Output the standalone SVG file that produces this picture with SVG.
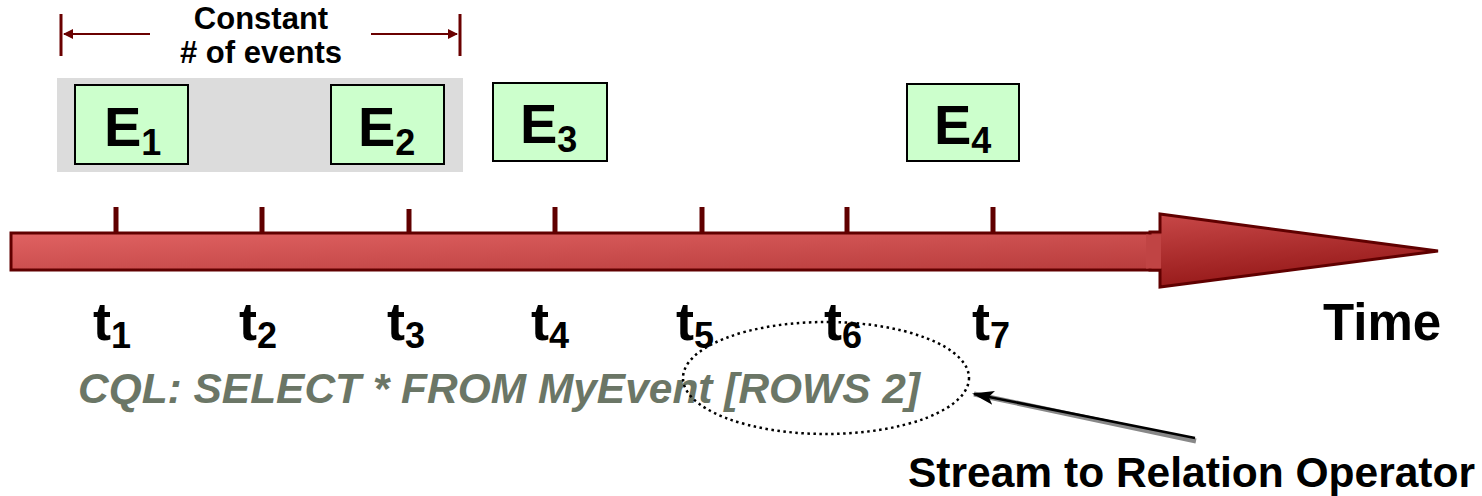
<svg xmlns="http://www.w3.org/2000/svg" width="1482" height="496" viewBox="0 0 1482 496">
  <defs>
    <style>
      .lbl { font-family: "Liberation Sans", Arial, sans-serif; font-weight: bold; fill: #000; }
      .ev rect { fill: #ccffcc; stroke: #000; stroke-width: 2; }
      .ev text { font-size: 56px; }
      .tick { stroke: #600000; stroke-width: 5; }
      .dim { stroke: #6a0000; stroke-width: 3; fill: none; }
    </style>
    <linearGradient id="shaftGrad" x1="0" y1="0" x2="1" y2="1" gradientUnits="objectBoundingBox">
      <stop offset="0" stop-color="#e06262"/>
      <stop offset="1" stop-color="#b83c3c"/>
    </linearGradient>
    <linearGradient id="headGrad" x1="0" y1="0" x2="0.3" y2="1">
      <stop offset="0" stop-color="#c84848"/>
      <stop offset="1" stop-color="#951818"/>
    </linearGradient>
    <marker id="dimHead" markerWidth="10" markerHeight="10" refX="9" refY="5" orient="auto" markerUnits="userSpaceOnUse" viewBox="0 0 10 10">
      <path d="M0,0 L10,5 L0,10 z" fill="#6a0000"/>
    </marker>
    <marker id="ptr" markerWidth="22" markerHeight="14" refX="20" refY="7" orient="auto" markerUnits="userSpaceOnUse" viewBox="0 0 22 14">
      <path d="M0,0 L22,7 L0,14 L5,7 z" fill="#000"/>
    </marker>
  </defs>

  <!-- window width indicator -->
  <g id="window-span">
    <line class="dim" x1="61" y1="14" x2="61" y2="56"/>
    <line class="dim" x1="460" y1="14" x2="460" y2="56"/>
    <line class="dim" x1="150" y1="34" x2="64" y2="34" marker-end="url(#dimHead)" style="stroke-width:2"/>
    <line class="dim" x1="371" y1="34" x2="457" y2="34" marker-end="url(#dimHead)" style="stroke-width:2"/>
    <text class="lbl" x="261" y="29" font-size="31" text-anchor="middle">Constant</text>
    <text class="lbl" x="261" y="63" font-size="31" text-anchor="middle"># of events</text>
  </g>

  <!-- current window contents -->
  <rect id="window" x="57" y="78" width="406" height="94" fill="#dcdcdc"/>

  <!-- events -->
  <g id="e1" class="ev">
    <rect x="75" y="85" width="113" height="79"/>
    <text class="lbl" x="104" y="146">E<tspan font-size="36" dy="9">1</tspan></text>
  </g>
  <g id="e2" class="ev">
    <rect x="331" y="85" width="113" height="79"/>
    <text class="lbl" x="358" y="146">E<tspan font-size="36" dy="9">2</tspan></text>
  </g>
  <g id="e3" class="ev">
    <rect x="493" y="83" width="114" height="78"/>
    <text class="lbl" x="520" y="143">E<tspan font-size="36" dy="9">3</tspan></text>
  </g>
  <g id="e4" class="ev">
    <rect x="907" y="84" width="112" height="77"/>
    <text class="lbl" x="934" y="144">E<tspan font-size="36" dy="9">4</tspan></text>
  </g>

  <!-- time axis -->
  <g id="axis">
    <line class="tick" x1="116" y1="207" x2="116" y2="234"/>
    <line class="tick" x1="262" y1="207" x2="262" y2="234"/>
    <line class="tick" x1="409" y1="209" x2="409" y2="234"/>
    <line class="tick" x1="555" y1="207" x2="555" y2="234"/>
    <line class="tick" x1="702" y1="207" x2="702" y2="234"/>
    <line class="tick" x1="847" y1="207" x2="847" y2="234"/>
    <line class="tick" x1="993" y1="207" x2="993" y2="234"/>
    <rect x="11" y="233" width="1160" height="37" fill="url(#shaftGrad)" stroke="#600000" stroke-width="3"/>
    <path d="M1160,232 L1160,214 L1438,251 L1160,287 L1160,270 L1150,270 L1150,232 Z" fill="url(#headGrad)" stroke="#600000" stroke-width="3" stroke-linejoin="miter"/>
    <rect x="1146" y="234.5" width="15" height="34" fill="#c04444"/>
  </g>

  <!-- time labels -->
  <g id="time-labels" font-size="54">
    <text class="lbl" x="93" y="340">t<tspan font-size="36" dy="8">1</tspan></text>
    <text class="lbl" x="239" y="340">t<tspan font-size="36" dy="8">2</tspan></text>
    <text class="lbl" x="387" y="340">t<tspan font-size="36" dy="8">3</tspan></text>
    <text class="lbl" x="531" y="340">t<tspan font-size="36" dy="8">4</tspan></text>
    <text class="lbl" x="676" y="340">t<tspan font-size="36" dy="8">5</tspan></text>
    <text class="lbl" x="824" y="340">t<tspan font-size="36" dy="8">6</tspan></text>
    <text class="lbl" x="972" y="340">t<tspan font-size="36" dy="8">7</tspan></text>
    <text class="lbl" x="1323" y="340" font-size="51">Time</text>
  </g>

  <!-- query -->
  <text id="query" x="78" y="403" font-family="'Liberation Sans', Arial, sans-serif" font-weight="bold" font-style="italic" font-size="42" fill="#6b7666" textLength="842" lengthAdjust="spacingAndGlyphs">CQL: SELECT * FROM MyEvent [ROWS 2]</text>

  <!-- operator callout -->
  <g id="operator">
    <ellipse cx="826" cy="378" rx="143" ry="56" fill="none" stroke="#000" stroke-width="2.5" stroke-dasharray="2.5 3.5"/>
    <text class="lbl" x="908" y="487" font-size="42" textLength="567" lengthAdjust="spacingAndGlyphs">Stream to Relation Operator</text>
  </g>

  <g id="connectors">
    <line x1="1196" y1="441" x2="974" y2="394" stroke="#888" stroke-width="5"/>
    <line x1="1195" y1="438" x2="974" y2="394" stroke="#000" stroke-width="2.5" marker-end="url(#ptr)"/>
  </g>
</svg>
